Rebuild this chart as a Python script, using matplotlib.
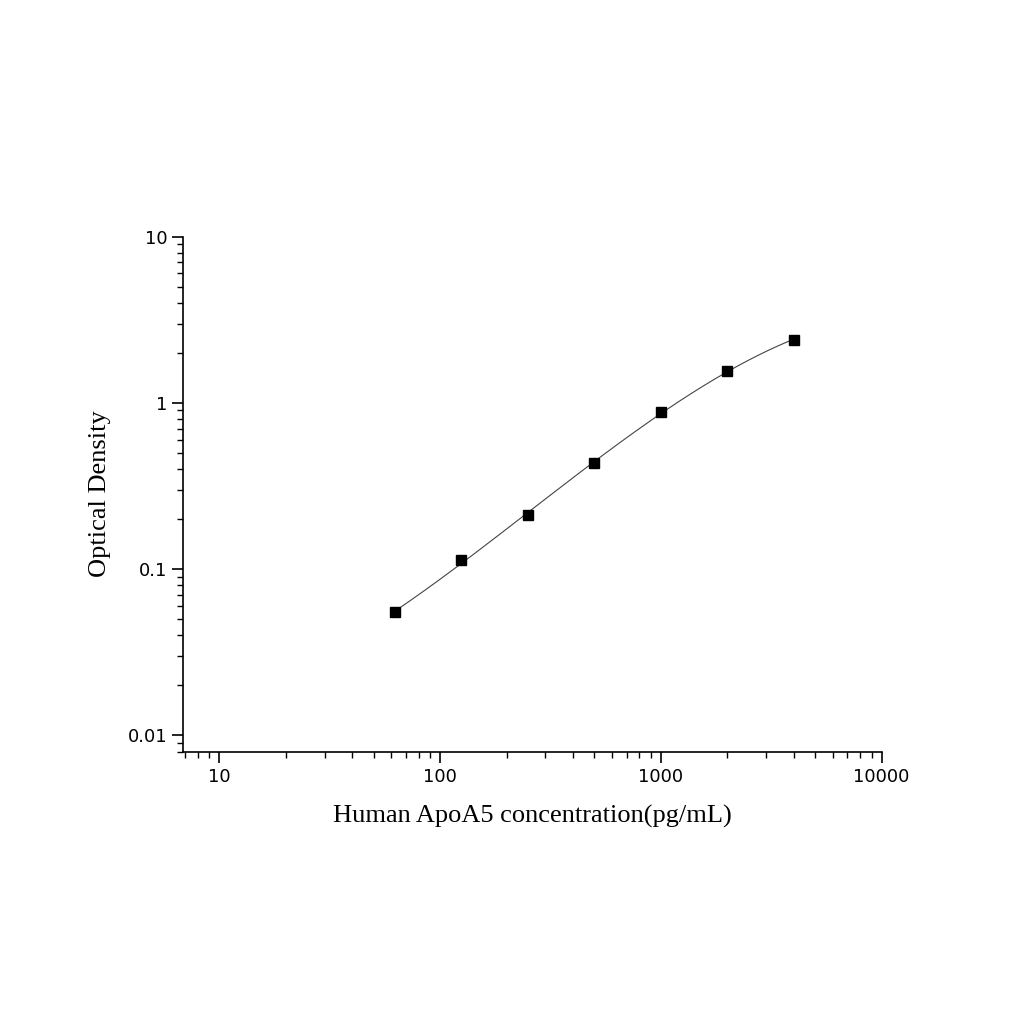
import numpy as np
import matplotlib.pyplot as plt
from matplotlib.ticker import LogLocator, FixedLocator, NullFormatter

plt.rcParams['font.family'] = ['Liberation Serif', 'DejaVu Serif']

conc = [62.5, 125, 250, 500, 1000, 2000, 4000]
od = [0.055, 0.114, 0.212, 0.435, 0.88, 1.55, 2.4]

fig = plt.figure(figsize=(10.24, 10.24), dpi=100)
ax = fig.add_axes([0.179, 0.266, 0.682, 0.503])

# smooth fit curve in log-log space
lx, ly = np.log10(conc), np.log10(od)
coef = np.polyfit(lx, ly, 3)
xs = np.linspace(lx[0], lx[-1], 200)
ax.plot(10**xs, 10**np.polyval(coef, xs), color='#444444', lw=0.8)
ax.plot(conc, od, 's', color='black', ms=7)

ax.set_xscale('log')
ax.set_yscale('log')
ax.set_xlim(6.87, 10000)
ax.set_ylim(0.008, 10)
ax.xaxis.set_major_locator(FixedLocator([10, 100, 1000, 10000]))
ax.set_xticklabels(['10', '100', '1000', '10000'])
ax.yaxis.set_major_locator(FixedLocator([0.01, 0.1, 1, 10]))
ax.set_yticklabels(['0.01', '0.1', '1', '10'])
ax.xaxis.set_minor_locator(LogLocator(base=10, subs=np.arange(2, 10), numticks=20))
ax.yaxis.set_minor_locator(LogLocator(base=10, subs=np.arange(2, 10), numticks=20))
ax.xaxis.set_minor_formatter(NullFormatter())
ax.yaxis.set_minor_formatter(NullFormatter())

for s in ['top', 'right']:
    ax.spines[s].set_visible(False)
for s in ['left', 'bottom']:
    ax.spines[s].set_linewidth(1.2)
ax.tick_params(which='major', direction='out', length=8, width=1.2, labelsize=15)
ax.tick_params(which='minor', direction='out', length=4, width=1)
for lab in ax.get_xticklabels() + ax.get_yticklabels():
    lab.set_family('DejaVu Sans')
    lab.set_fontsize(13)

ax.set_xlabel('Human ApoA5 concentration(pg/mL)', fontsize=19, labelpad=14)
ax.set_ylabel('Optical Density', fontsize=19, labelpad=12)

fig.savefig('out.png', dpi=100)
